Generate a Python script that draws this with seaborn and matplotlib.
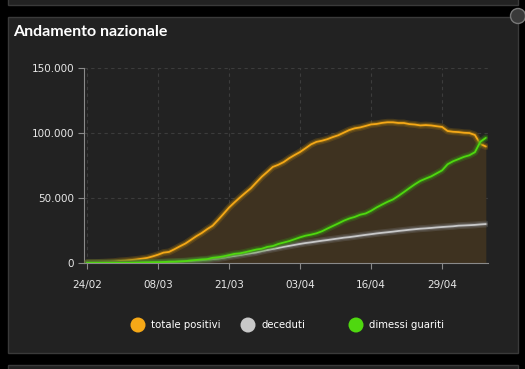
import matplotlib
matplotlib.use("Agg")
import matplotlib.pyplot as plt
import matplotlib.patheffects as pe
from matplotlib.patches import Rectangle, Circle
from matplotlib.ticker import FuncFormatter
import seaborn as sns
import pandas as pd
import numpy as np

dates = pd.date_range("2020-02-24", "2020-05-07", freq="D")

totale_positivi = [221, 311, 385, 588, 821, 1049, 1577, 1835, 2263, 2706, 3296, 3916, 5061, 6387,
                   7985, 8514, 10590, 12839, 14955, 17750, 20603, 23073, 26062, 28710, 33190, 37860,
                   42681, 46638, 50418, 54030, 57521, 62013, 66414, 70065, 73880, 75528, 77635, 80572,
                   83049, 85388, 88274, 91246, 93187, 94067, 95262, 96877, 98273, 100269, 102253,
                   103616, 104291, 105418, 106607, 106962, 107771, 108257, 108237, 107709, 107699,
                   106848, 106527, 105847, 106103, 105813, 105205, 104657, 101551, 100943, 100704,
                   100179, 99980, 98467, 91528, 89624]
deceduti = [7, 10, 12, 17, 21, 29, 34, 52, 79, 107, 148, 197, 233, 366, 463, 631, 827, 1016, 1266,
            1441, 1809, 2158, 2503, 2978, 3405, 4032, 4825, 5476, 6077, 6820, 7503, 8165, 9134,
            10023, 10779, 11591, 12428, 13155, 13915, 14681, 15362, 15887, 16523, 17127, 17669,
            18279, 18849, 19468, 19899, 20465, 21067, 21645, 22170, 22745, 23227, 23660, 24114,
            24648, 25085, 25549, 25969, 26384, 26644, 26977, 27359, 27682, 27967, 28236, 28710,
            28884, 29079, 29315, 29684, 29958]
dimessi_guariti = [1, 1, 3, 45, 46, 50, 83, 149, 160, 276, 414, 523, 589, 622, 724, 1004, 1045,
                   1258, 1439, 1966, 2335, 2749, 2941, 4025, 4440, 5129, 6072, 7024, 7432, 8326,
                   9362, 10361, 10950, 12384, 13030, 14620, 15729, 16847, 18278, 19758, 20996,
                   21815, 22837, 24392, 26491, 28470, 30455, 32534, 34211, 35435, 37130, 38092,
                   40164, 42727, 44927, 47055, 48877, 51600, 54543, 57576, 60498, 63120, 64928,
                   66624, 68941, 71252, 75945, 78249, 79914, 81654, 82879, 85231, 93245, 96276]

series_names = ["totale positivi", "deceduti", "dimessi guariti"]
series_colors = ["#f5a817", "#c8c8c8", "#4fd80f"]
tick_labels = ["24/02", "08/03", "21/03", "03/04", "16/04", "29/04"]
y_ticks = [0, 50000, 100000, 150000]

day = np.arange(len(dates))
df = pd.DataFrame({"day": day,
                   "totale positivi": totale_positivi,
                   "deceduti": deceduti,
                   "dimessi guariti": dimessi_guariti})
long = df.melt(id_vars="day", var_name="serie", value_name="valore")

sns.set_theme(style="dark")
W, H = 525, 369
fig = plt.figure(figsize=(W / 100, H / 100), dpi=100, facecolor="black")

# background overlay in pixel coordinates
bg = fig.add_axes([0, 0, 1, 1], zorder=0)
bg.set_xlim(0, W)
bg.set_ylim(H, 0)
bg.axis("off")

def px_rect(x0, y0, x1, y1):
    bg.add_patch(Rectangle((x0, y0), x1 - x0, y1 - y0, facecolor="#222222",
                           edgecolor="#3a3a3a", linewidth=1))

px_rect(7.5, -10, 517.5, 5)
px_rect(7.5, 16.5, 517.5, 353)
px_rect(7.5, 364.5, 517.5, 380)
bg.add_patch(Circle((518, 16), 7.5, facecolor="#3a3a3a", edgecolor="#777777", linewidth=1))

bg.text(13, 32, "Andamento nazionale", color="white", fontsize=11.5,
        fontweight="bold", va="center", ha="left", family="Lato")

leg_x = [138, 248, 356]
for x, name, c in zip(leg_x, series_names, series_colors):
    bg.add_patch(Circle((x, 325), 7.5, facecolor=c, edgecolor="none"))
    bg.text(x + 13, 325, name, color="white", fontsize=7.3, va="center", ha="left")

ax = fig.add_axes([84 / W, 1 - 263 / H, (488 - 84) / W, (263 - 68) / H], zorder=1)
ax.set_facecolor("none")

ax.fill_between(day, 0, totale_positivi, color="#3e3220", linewidth=0, zorder=1)

sns.lineplot(data=long, x="day", y="valore", hue="serie", hue_order=series_names,
             palette=series_colors, linewidth=1.3, legend=False, ax=ax, zorder=3)

halo = ["#9a7010", "#777777", "#3a8a14"]
for line, hc in zip(ax.get_lines(), halo):
    line.set_path_effects([pe.Stroke(linewidth=5, foreground=hc, alpha=0.3),
                           pe.Stroke(linewidth=3, foreground=hc, alpha=0.5),
                           pe.Normal()])

ax.set_xlim(-0.55, 73.4)
ax.set_ylim(0, 150000)
tick_pos = [int(np.where(dates == pd.Timestamp(2020, int(t[3:]), int(t[:2])))[0][0]) for t in tick_labels]
ax.set_xticks(tick_pos)
ax.set_xticklabels(tick_labels)
ax.set_yticks(y_ticks)
ax.yaxis.set_major_formatter(FuncFormatter(lambda v, p: f"{int(v):,}".replace(",", ".")))
ax.set_xlabel("")
ax.set_ylabel("")

ax.grid(True, color="#3c3c3c", linestyle=(0, (3, 3)), linewidth=0.8)
ax.set_axisbelow(True)
for s in ["top", "right"]:
    ax.spines[s].set_visible(False)
for s in ["left", "bottom"]:
    ax.spines[s].set_visible(True)
    ax.spines[s].set_color("#8a8a8a")
    ax.spines[s].set_linewidth(0.8)
ax.tick_params(axis="both", colors="#8a8a8a", labelcolor="#e8e8e8", labelsize=7.5,
               length=4, width=0.8, direction="out", bottom=True, left=True)
ax.tick_params(axis="x", pad=8)
ax.tick_params(axis="y", pad=3)

fig.savefig("out.png", dpi=100, facecolor="black")
